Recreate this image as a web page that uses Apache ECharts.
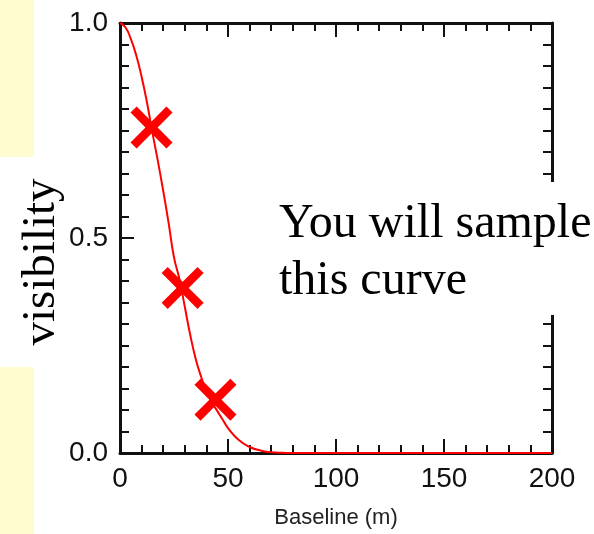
<!DOCTYPE html>
<html>
<head>
<meta charset="utf-8">
<script src="https://cdn.jsdelivr.net/npm/echarts@6/dist/echarts.min.js"></script>
<style>
  html, body { margin: 0; padding: 0; background: #ffffff; }
  #chart { width: 594px; height: 534px; }
</style>
</head>
<body>
<div id="chart"></div>
<script>
// Visibility curve versus baseline length
const baselines = [0, 2.5, 5, 7.5, 10, 12.5, 15, 17.5, 20, 22.5, 25, 27.5, 30, 32.5, 35, 37.5, 40, 42.5, 45, 47.5, 50, 55, 60, 65, 70, 75, 80, 100, 150, 200];
const visibility = [1.0, 0.99, 0.963, 0.925, 0.875, 0.815, 0.745, 0.68, 0.61, 0.535, 0.455, 0.405, 0.34, 0.275, 0.22, 0.178, 0.145, 0.118, 0.098, 0.078, 0.058, 0.03, 0.014, 0.006, 0.002, 0.0005, 0, 0, 0, 0];

// Sampled baselines (marked with crosses)
const sampleBaselines = [14.6, 29.0, 44.2];
const sampleVisibility = [0.757, 0.384, 0.124];

// Axis ticks
const xTicks = [0, 50, 100, 150, 200];
const yTicks = [0.0, 0.5, 1.0];

const xLabel = 'Baseline (m)';
const yLabel = 'visibility';
const noteLines = ['You will sample', 'this curve'];

const curveData = baselines.map((b, i) => [b, visibility[i]]);
const sampleData = sampleBaselines.map((b, i) => [b, sampleVisibility[i]]);

// X-shaped marker outline in a 100x100 box
const t = 14.5;
const crossPath = 'path://M0,' + t + 'L' + t + ',0L50,' + (50 - t) + 'L' + (100 - t) + ',0L100,' + t +
  'L' + (50 + t) + ',50L100,' + (100 - t) + 'L' + (100 - t) + ',100L50,' + (50 + t) +
  'L' + t + ',100L0,' + (100 - t) + 'L' + (50 - t) + ',50Z';

const ink = '#111111';
const labelFont = { fontFamily: 'Liberation Sans, Arial, sans-serif', fontSize: 28, color: ink };
const serif = '"Liberation Serif", "Times New Roman", serif';

function xAxisDef(pos, showLabels) {
  return {
    type: 'value', position: pos, min: xTicks[0], max: xTicks[xTicks.length - 1], interval: 50,
    axisLine: { show: true, onZero: false, lineStyle: { color: ink, width: 3 } },
    axisTick: { show: true, inside: true, length: 14, lineStyle: { color: ink, width: 2 } },
    minorTick: { show: true, splitNumber: 5, length: 8, lineStyle: { color: ink, width: 2 } },
    splitLine: { show: false },
    axisLabel: Object.assign({ show: showLabels, margin: 12 }, labelFont)
  };
}
function yAxisDef(pos, showLabels) {
  return {
    type: 'value', position: pos, min: yTicks[0], max: yTicks[yTicks.length - 1], interval: 0.5,
    axisLine: { show: true, onZero: false, lineStyle: { color: ink, width: 3 } },
    axisTick: { show: true, inside: true, length: 14, lineStyle: { color: ink, width: 2 } },
    minorTick: { show: true, splitNumber: 10, length: 9, lineStyle: { color: ink, width: 2 } },
    splitLine: { show: false },
    axisLabel: Object.assign({ show: showLabels, margin: 12, formatter: v => v.toFixed(1) }, labelFont)
  };
}

const chart = echarts.init(document.getElementById('chart'), null, { renderer: 'canvas' });
chart.setOption({
  backgroundColor: '#ffffff',
  animation: false,
  grid: { left: 120, top: 23, width: 432, height: 430, containLabel: false },
  xAxis: [xAxisDef('bottom', true), xAxisDef('top', false)],
  yAxis: [yAxisDef('left', true), yAxisDef('right', false)],
  series: [
    {
      type: 'line', data: curveData, smooth: true, showSymbol: false,
      lineStyle: { color: '#ff0000', width: 2 }, z: 3
    },
    {
      type: 'scatter', data: sampleData, symbol: crossPath, symbolSize: 42,
      itemStyle: { color: '#ff0000', opacity: 1 }, z: 4
    }
  ],
  graphic: [
    { type: 'rect', left: 0, top: 0, shape: { width: 34, height: 157 }, style: { fill: '#fffdd0' }, z: 0 },
    { type: 'rect', left: 0, top: 367, shape: { width: 34, height: 167 }, style: { fill: '#fffdd0' }, z: 0 },
    { type: 'rect', left: 270, top: 182, shape: { width: 324, height: 133 }, style: { fill: '#ffffff' }, z: 100 },
    {
      type: 'text', x: 279, y: 224, z: 101,
      style: { text: noteLines[0], font: '48px ' + serif, fill: '#000', verticalAlign: 'middle' }
    },
    {
      type: 'text', x: 279, y: 281, z: 101,
      style: { text: noteLines[1], font: '48px ' + serif, fill: '#000', verticalAlign: 'middle' }
    },
    {
      type: 'text', x: 42, y: 262, rotation: Math.PI / 2, z: 101,
      style: { text: yLabel, font: '47px ' + serif, fill: '#000', align: 'center', verticalAlign: 'middle' }
    },
    {
      type: 'text', x: 336, y: 518, z: 101,
      style: { text: xLabel, font: '22px "Liberation Sans", Arial, sans-serif', fill: '#222', align: 'center', verticalAlign: 'middle' }
    }
  ]
});
</script>
</body>
</html>
